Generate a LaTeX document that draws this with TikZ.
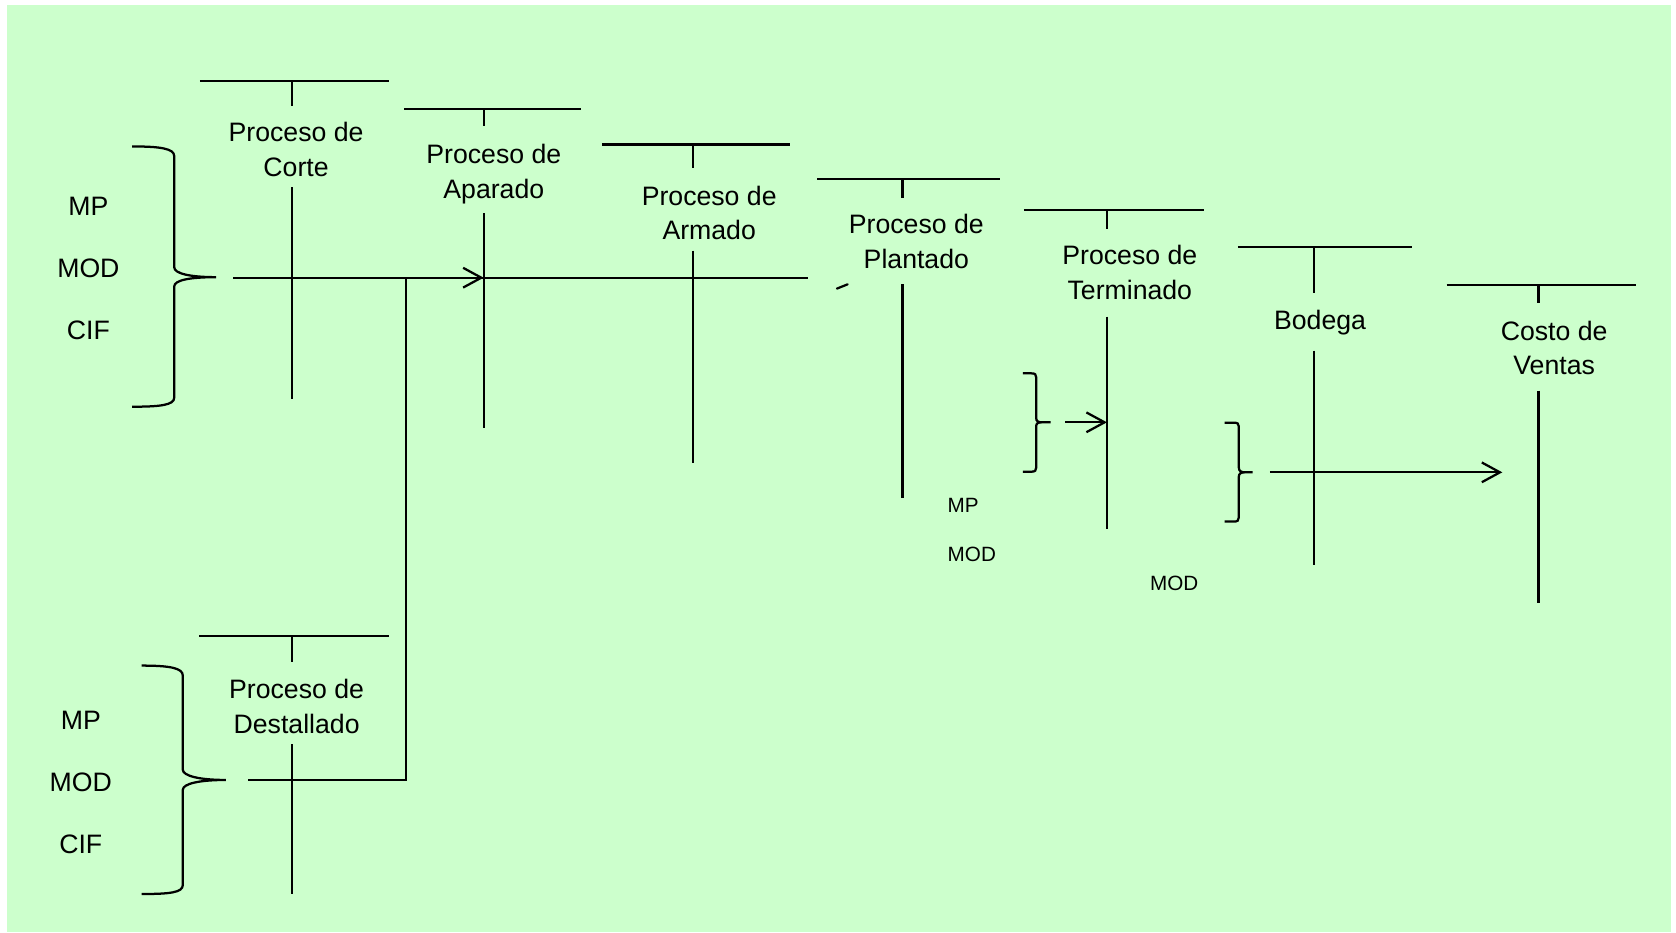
\documentclass[tikz,border=0pt]{standalone}
\usepackage{fontspec}
\setmainfont{Liberation Sans}
\usepackage{tikz}
\usetikzlibrary{arrows.meta}
\definecolor{sheetgreen}{RGB}{204,255,204}
\newcommand{\procfont}{\fontsize{14.2}{18.5}\selectfont}
\newcommand{\notefont}{\fontsize{11}{13}\selectfont}

\begin{document}
\begin{tikzpicture}[x=0.02cm, y=-0.02cm, line width=1.2pt,
    every node/.style={font=\procfont, inner sep=0pt},
    proc/.style={align=center, anchor=base},
    cost/.style={anchor=base},
    note/.style={font=\notefont, anchor=base west},
    flow/.style={-{Straight Barb[length=3.4mm, width=3.7mm]}}]
    \useasboundingbox (0,0) rectangle (1568,872);
    \fill[sheetgreen] (6.5,4.7) rectangle (1563,872);

    % cuentas T
    \node[proc] (corte) at (277,164.8) {Proceso de\\Corte};
    \draw (187,75.5) -- (364,75.5) (273,75.5) -- (273,99) (273,175) -- (273,373.6);
    \node[proc] (aparado) at (462,185.3) {Proceso de\\Aparado};
    \draw (378,101.7) -- (543.5,101.7) (452.5,101.7) -- (452.5,117.6) (452.5,199.6) -- (452.5,400);
    \node[proc] (armado) at (663.5,224.3) {Proceso de\\Armado};
    \draw (563,135.3) -- (739.5,135.3) (648.6,135.3) -- (648.6,157.5) (648.6,234.5) -- (648.6,433.5);
    \node[proc] (plantado) at (857.3,250.8) {Proceso de\\Plantado};
    \draw (764.6,167.5) -- (935.7,167.5) (844.4,167.5) -- (844.4,185) (844.4,266) -- (844.4,465.6);
    \node[proc] (terminado) at (1057,279.8) {Proceso de\\Terminado};
    \draw (957.9,196.5) -- (1126,196.5) (1035.6,196.5) -- (1035.6,214.6) (1035.6,296.3) -- (1035.6,495.2);
    \node[proc] (bodega) at (1235,308) {Bodega};
    \draw (1158,231.4) -- (1320.7,231.4) (1229.6,231.4) -- (1229.6,274.4) (1229.6,328) -- (1229.6,529);
    \node[proc] (costo) at (1454,350.8) {Costo de\\Ventas};
    \draw (1353.3,266.6) -- (1530.4,266.6) (1439.4,266.6) -- (1439.4,283.8) (1439.4,365.5) -- (1439.4,564.4);
    \node[proc] (destallado) at (277.5,686) {Proceso de\\Destallado};
    \draw (186.5,595) -- (364,595) (272.9,595) -- (272.9,619.6) (272.9,696.4) -- (272.9,836.4);

    % elementos del costo
    \node[cost] (mp1) at (82.7,202) {MP};
    \node[cost] (mod1) at (82.7,259.8) {MOD};
    \node[cost] (cif1) at (82.7,317.5) {CIF};
    \node[cost] (mp2) at (75.6,682.3) {MP};
    \node[cost] (mod2) at (75.6,740.6) {MOD};
    \node[cost] (cif2) at (75.6,798.3) {CIF};
    \node[note] (mp3) at (885.6,479.6) {MP};
    \node[note] (mod3) at (885.6,525.5) {MOD};
    \node[note] (mod4) at (1075,552) {MOD};

    % llaves
    \draw (123.5,137) .. controls (150,137) and (163,139) .. (163,146) -- (163,250)
        .. controls (163,256) and (178,259.3) .. (202.3,259.3)
        .. controls (178,259.3) and (163,262) .. (163,268) -- (163,372)
        .. controls (163,379) and (150,380.5) .. (123.5,380.5);
    \draw (132.5,622.7) .. controls (159,622.7) and (171,625) .. (171,632) -- (171,720)
        .. controls (171,726) and (187,729.7) .. (211.4,729.7)
        .. controls (187,729.7) and (171,733) .. (171,739) -- (171,828)
        .. controls (171,835) and (159,836.4) .. (132.5,836.4);
    \draw (957,349.3) -- (965,349.3) .. controls (968.5,349.3) and (969.4,350.5) .. (969.4,353) -- (969.4,391)
        .. controls (969.4,394) and (971,395.1) .. (975,395.1) -- (983,395.1) -- (975,395.1)
        .. controls (971,395.1) and (969.4,396) .. (969.4,399) -- (969.4,437.5)
        .. controls (969.4,440) and (968.5,441.3) .. (965,441.3) -- (957,441.3);
    \draw (1145.6,395.4) -- (1154,395.4) .. controls (1158,395.4) and (1159,396.6) .. (1159,399) -- (1159,437.5)
        .. controls (1159,440.5) and (1161,441.9) .. (1164.5,441.9) -- (1172,441.9) -- (1164.5,441.9)
        .. controls (1161,441.9) and (1159,443) .. (1159,446) -- (1159,484)
        .. controls (1159,486.8) and (1158,488) .. (1154,488) -- (1145.6,488);
    \draw[line cap=round] (783,270) -- (793,266);

    % flujo
    \coordinate (corteOut) at (218.4,259.8);
    \coordinate (armadoEnd) at (755.6,259.8);
    \coordinate (aparadoIn) at (452.5,259.8);
    \coordinate (destOut) at (232.3,729.7);
    \coordinate (mpIn) at (996.6,395.1);
    \coordinate (terminadoIn) at (1035.6,395.1);
    \coordinate (bodegaOut) at (1188,441.9);
    \coordinate (costoIn) at (1405.5,441.9);
    \draw (corteOut) -- (armadoEnd);
    \draw[flow] (destOut) -- ++(147.2,0) |- (aparadoIn);
    \draw[flow] (mpIn) -- (terminadoIn);
    \draw[flow] (bodegaOut) -- (costoIn);
\end{tikzpicture}
\end{document}
